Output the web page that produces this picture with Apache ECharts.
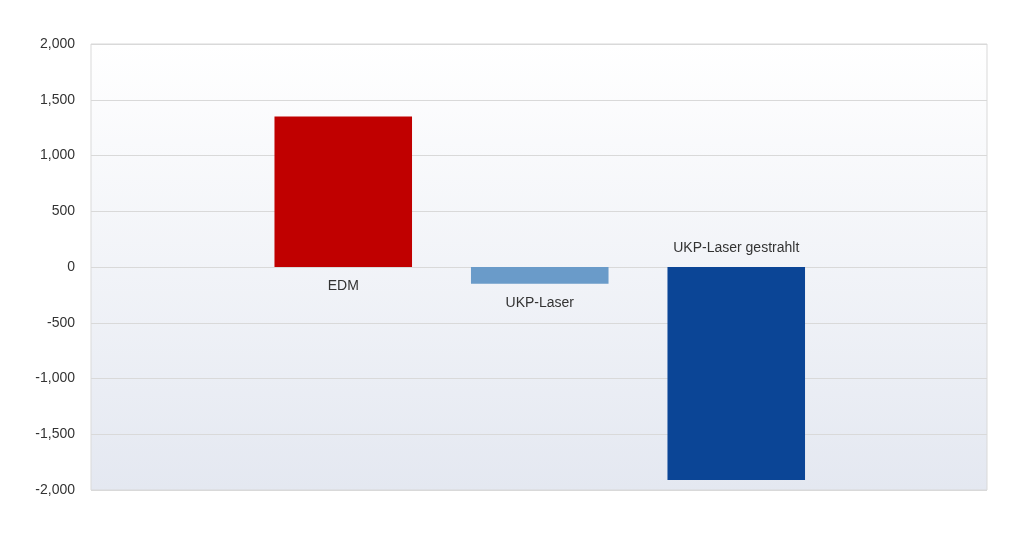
<!DOCTYPE html>
<html><head><meta charset="utf-8">
<script src="https://cdn.jsdelivr.net/npm/echarts@6/dist/echarts.min.js"></script>
<style>html,body{margin:0;padding:0;background:#fff}#c{width:1024px;height:534px}</style>
</head><body><div id="c"></div>
<script>
const categories = ['EDM', 'UKP-Laser', 'UKP-Laser gestrahlt'];
const values = [1350, -150, -1910];
const colors = ['#C00000', '#6A9BC9', '#0B4596'];
const labelPos = ['bottom', 'bottom', 'top'];
const yTicks = { min: -2000, max: 2000, interval: 500 };

const chart = echarts.init(document.getElementById('c'));
chart.setOption({
  animation: false,
  grid: [
    { left: 91, right: 37, top: 44, bottom: 44, show: true, borderColor: '#D9D9D9', borderWidth: 1,
      backgroundColor: new echarts.graphic.LinearGradient(0, 0, 0, 1, [
        { offset: 0, color: '#FFFFFF' }, { offset: 1, color: '#E4E8F1' }]) },
    { left: 245, right: 189.5, top: 44, bottom: 44 }
  ],
  xAxis: [
    { type: 'category', gridIndex: 0, data: [''], show: false },
    { type: 'category', gridIndex: 1, data: categories, show: false }
  ],
  yAxis: [
    { type: 'value', gridIndex: 0, min: yTicks.min, max: yTicks.max, interval: yTicks.interval,
      axisLine: { show: false }, axisTick: { show: false },
      axisLabel: { color: '#333', fontSize: 14, fontFamily: 'Liberation Sans, Arial', margin: 16 },
      splitLine: { lineStyle: { color: '#D9D9D9' } } },
    { type: 'value', gridIndex: 1, min: yTicks.min, max: yTicks.max, interval: yTicks.interval, show: false }
  ],
  series: [{
    type: 'bar', xAxisIndex: 1, yAxisIndex: 1, barWidth: '70%',
    data: values.map((v, i) => ({
      value: v, itemStyle: { color: colors[i] },
      label: { show: true, position: labelPos[i], formatter: categories[i], distance: 12,
        color: '#333', fontSize: 14, fontFamily: 'Liberation Sans, Arial' }
    }))
  }]
});
</script></body></html>
